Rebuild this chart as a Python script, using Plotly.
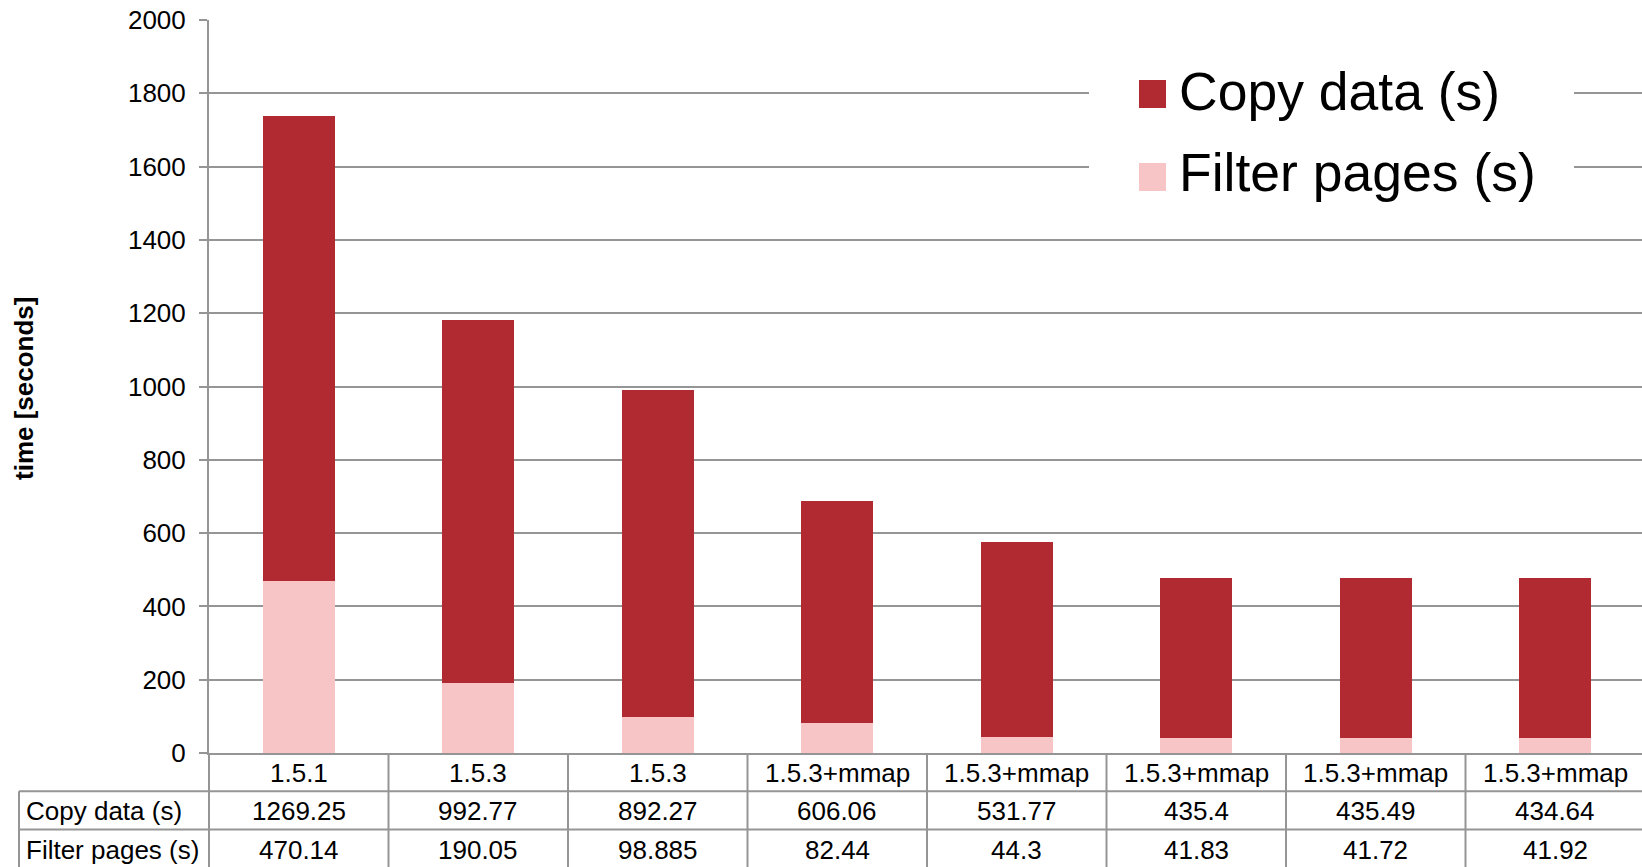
import plotly.graph_objects as go

# ---- data -------------------------------------------------------------
categories = ["1.5.1", "1.5.3", "1.5.3", "1.5.3+mmap", "1.5.3+mmap",
              "1.5.3+mmap", "1.5.3+mmap", "1.5.3+mmap"]
copy_data = [1269.25, 992.77, 892.27, 606.06, 531.77, 435.4, 435.49, 434.64]
filter_pages = [470.14, 190.05, 98.885, 82.44, 44.3, 41.83, 41.72, 41.92]
series_names = ["Copy data (s)", "Filter pages (s)"]
y_ticks = list(range(0, 2001, 200))

# ---- styling / layout constants ---------------------------------------
W, H = 1642, 867
PLOT_L, PLOT_T, PLOT_B = 209, 20, 753      # plot area edges in pixels
CAT_W = 179.5                               # pixel width of one category
ROW_H = 38.3                                # data table row height
TABLE_L = 19                                # left edge of row-label column
FONT = "Liberation Sans, Arial, sans-serif"
DARK = "#B22A31"
PINK = "#F7C5C5"
GRID = "#959595"

plot_w = W - PLOT_L
plot_h = PLOT_B - PLOT_T
x_min = -0.5
x_max = x_min + plot_w / CAT_W


def px_x(px):
    return (px - PLOT_L) / plot_w


def px_y(py):
    return (PLOT_B - py) / plot_h


x_pos = list(range(len(categories)))

fig = go.Figure()
fig.add_trace(go.Bar(x=x_pos, y=filter_pages, name=series_names[1],
                     marker=dict(color=PINK, line=dict(width=0)), width=0.4))
fig.add_trace(go.Bar(x=x_pos, y=copy_data, name=series_names[0],
                     marker=dict(color=DARK, line=dict(width=0)), width=0.4))

shapes = []
annotations = []

# data table grid below the axis
table_bottom = PLOT_B + 3 * ROW_H
for k in range(len(categories) + 1):
    xp = px_x(PLOT_L + k * CAT_W)
    shapes.append(dict(type="line", xref="paper", yref="paper",
                       x0=xp, x1=xp, y0=0, y1=px_y(table_bottom + 2),
                       line=dict(color=GRID, width=2)))
for r in (1, 2):
    yp = px_y(PLOT_B + r * ROW_H)
    shapes.append(dict(type="line", xref="paper", yref="paper",
                       x0=px_x(TABLE_L), x1=1.01, y0=yp, y1=yp,
                       line=dict(color=GRID, width=2)))
shapes.append(dict(type="line", xref="paper", yref="paper",
                   x0=px_x(TABLE_L), x1=px_x(TABLE_L),
                   y0=px_y(PLOT_B + ROW_H), y1=px_y(table_bottom + 2),
                   line=dict(color=GRID, width=2)))

rows = [(categories, None), ([str(v) for v in copy_data], series_names[0]),
        ([str(v) for v in filter_pages], series_names[1])]
for r, (texts, label) in enumerate(rows):
    yc = px_y(PLOT_B + (r + 0.5) * ROW_H + 1)
    for i, t in enumerate(texts):
        annotations.append(dict(text=t, xref="x", yref="paper", x=x_pos[i], y=yc,
                                showarrow=False, xanchor="center", yanchor="middle",
                                font=dict(family=FONT, size=26, color="black")))
    if label:
        annotations.append(dict(text=label, xref="paper", yref="paper",
                                x=px_x(TABLE_L + 5), y=yc, showarrow=False,
                                xanchor="left", yanchor="middle",
                                font=dict(family=FONT, size=26, color="black")))

# legend drawn over a white panel that masks the gridlines
shapes.append(dict(type="rect", xref="paper", yref="paper",
                   x0=px_x(1089), x1=px_x(1574), y0=px_y(205), y1=px_y(45),
                   fillcolor="white", line=dict(width=0), layer="above"))
legend_items = [(series_names[0], DARK, 94, 92), (series_names[1], PINK, 177, 173)]
for name, color, cy, ty in legend_items:
    shapes.append(dict(type="rect", xref="paper", yref="paper",
                       x0=px_x(1139), x1=px_x(1166),
                       y0=px_y(cy + 14), y1=px_y(cy - 14),
                       fillcolor=color, line=dict(width=0), layer="above"))
    annotations.append(dict(text=name, xref="paper", yref="paper",
                            x=px_x(1177), y=px_y(ty), showarrow=False,
                            xanchor="left", yanchor="middle",
                            font=dict(family=FONT, size=53.5, color="black")))

# y-axis title
annotations.append(dict(text="<b>time [seconds]</b>", xref="paper", yref="paper",
                        x=px_x(24), y=px_y(388), textangle=-90, showarrow=False,
                        xanchor="center", yanchor="middle",
                        font=dict(family=FONT, size=26, color="black")))

fig.update_layout(
    width=W, height=H,
    margin=dict(l=PLOT_L, r=0, t=PLOT_T, b=H - PLOT_B, pad=0),
    barmode="stack",
    plot_bgcolor="white", paper_bgcolor="white",
    showlegend=False,
    shapes=shapes, annotations=annotations,
    xaxis=dict(range=[x_min, x_max], showticklabels=False, showgrid=False,
               zeroline=False, showline=True, linecolor=GRID, linewidth=2,
               ticks=""),
    yaxis=dict(range=[0, 2000], tickvals=y_ticks, showgrid=True,
               gridcolor=GRID, gridwidth=2, zeroline=False,
               showline=True, linecolor=GRID, linewidth=2,
               ticks="outside", ticklen=8, tickwidth=2, tickcolor=GRID,
               ticklabelstandoff=8,
               tickfont=dict(family=FONT, size=26, color="black")),
)

fig.write_html("out.html")
